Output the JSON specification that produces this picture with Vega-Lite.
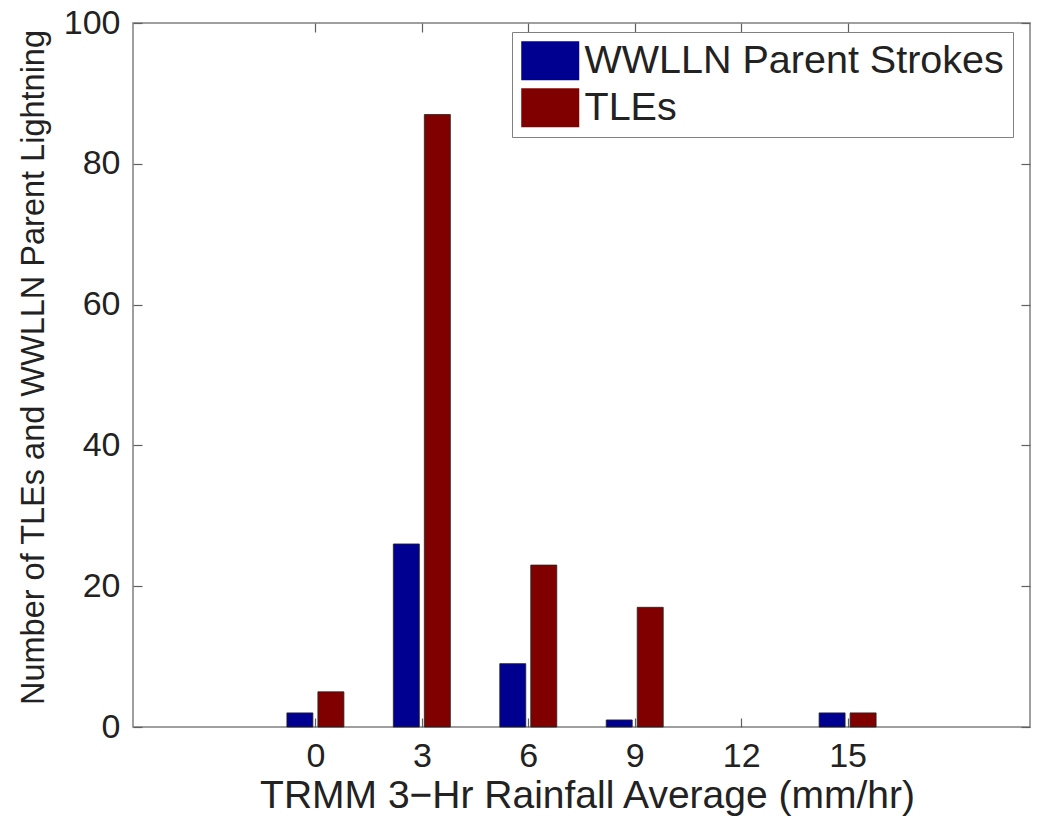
{
  "$schema": "https://vega.github.io/schema/vega-lite/v6.json",
  "width": 897,
  "height": 704,
  "autosize": {"type": "none"},
  "padding": {"left": 133, "top": 23, "right": 7, "bottom": 89},
  "background": "white",
  "config": {
    "font": "Liberation Sans",
    "view": {"stroke": "#808080", "strokeWidth": 1.5},
    "axis": {"domain": false, "grid": false, "tickColor": "#606060", "tickWidth": 1.2, "labelColor": "#222", "titleColor": "#222", "labelFont": "Liberation Sans", "titleFont": "Liberation Sans", "titleFontWeight": "normal"}
  },
  "data": {"values": [
    {"rain": 0, "series": "WWLLN Parent Strokes", "count": 2},
    {"rain": 3, "series": "WWLLN Parent Strokes", "count": 26},
    {"rain": 6, "series": "WWLLN Parent Strokes", "count": 9},
    {"rain": 9, "series": "WWLLN Parent Strokes", "count": 1},
    {"rain": 12, "series": "WWLLN Parent Strokes", "count": 0},
    {"rain": 15, "series": "WWLLN Parent Strokes", "count": 2},
    {"rain": 0, "series": "TLEs", "count": 5},
    {"rain": 3, "series": "TLEs", "count": 87},
    {"rain": 6, "series": "TLEs", "count": 23},
    {"rain": 9, "series": "TLEs", "count": 17},
    {"rain": 12, "series": "TLEs", "count": 0},
    {"rain": 15, "series": "TLEs", "count": 2}
  ]},
  "layer": [
    {
      "transform": [{"filter": "datum.series === 'WWLLN Parent Strokes'"}],
      "mark": {"type": "bar", "width": 26, "xOffset": -15.5, "stroke": "#222", "strokeWidth": 0.8},
      "encoding": {
        "x": {"field": "rain", "type": "quantitative", "scale": {"domain": [-5, 20], "nice": false, "zero": false},
          "axis": {"orient": "bottom", "values": [0, 3, 6, 9, 12, 15], "tickSize": -9, "labelPadding": 21, "labelFontSize": 34,
            "title": "TRMM 3−Hr Rainfall Average (mm/hr)", "titleFontSize": 39, "titleX": 454, "titleY": 80, "titleBaseline": "alphabetic", "titleAnchor": null, "titleAlign": "center"}},
        "y": {"field": "count", "type": "quantitative", "scale": {"domain": [0, 100], "nice": false},
          "axis": {"orient": "left", "values": [0, 20, 40, 60, 80, 100], "tickSize": -9, "labelPadding": 22, "labelFontSize": 34,
            "title": "Number of TLEs and WWLLN Parent Lightning", "titleFontSize": 32.5, "titleX": -90, "titleY": 344, "titleBaseline": "alphabetic", "titleAngle": -90, "titleAlign": "center"}},
        "strokeOpacity": {"condition": {"test": "datum.count === 0", "value": 0}, "value": 1},
        "color": {"field": "series", "type": "nominal",
          "scale": {"domain": ["WWLLN Parent Strokes", "TLEs"], "range": ["#000090", "#800000"]},
          "legend": {"orient": "none", "legendX": 379, "legendY": 9, "title": null,
            "symbolType": "M-1,-1H1.974V1H-1Z", "symbolSize": 1521, "symbolStrokeWidth": 0, "symbolOpacity": 1,
            "labelFontSize": 39.5, "labelFont": "Liberation Sans", "labelColor": "#222", "labelOffset": 24,
            "padding": 9, "rowPadding": 6, "strokeColor": "#808080", "fillColor": "white", "labelLimit": 600}}
      }
    },
    {
      "transform": [{"filter": "datum.series === 'TLEs'"}],
      "mark": {"type": "bar", "width": 26, "xOffset": 15.5, "stroke": "#222", "strokeWidth": 0.8},
      "encoding": {
        "x": {"field": "rain", "type": "quantitative",
          "axis": {"orient": "top", "values": [0, 3, 6, 9, 12, 15], "tickSize": -9, "labels": false, "title": null}},
        "y": {"field": "count", "type": "quantitative",
          "axis": {"orient": "right", "values": [0, 20, 40, 60, 80, 100], "tickSize": -9, "labels": false, "title": null}},
        "strokeOpacity": {"condition": {"test": "datum.count === 0", "value": 0}, "value": 1},
        "color": {"field": "series", "type": "nominal"}
      }
    }
  ],
  "resolve": {"axis": {"x": "independent", "y": "independent"}}
}
